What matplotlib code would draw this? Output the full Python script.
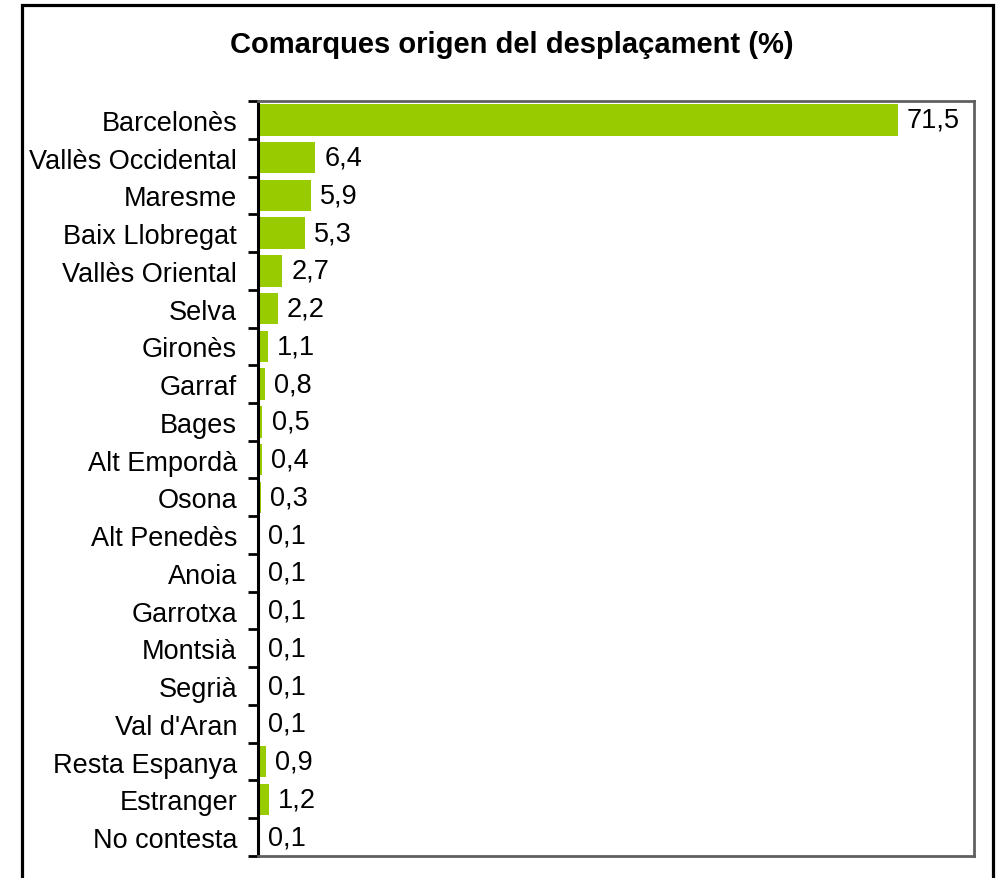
import matplotlib
matplotlib.use("Agg")
import matplotlib.pyplot as plt
from matplotlib.patches import Rectangle

categories = ["Barcelonès", "Vallès Occidental", "Maresme", "Baix Llobregat",
              "Vallès Oriental", "Selva", "Gironès", "Garraf", "Bages",
              "Alt Empordà", "Osona", "Alt Penedès", "Anoia", "Garrotxa",
              "Montsià", "Segrià", "Val d'Aran", "Resta Espanya", "Estranger",
              "No contesta"]
values = [71.5, 6.4, 5.9, 5.3, 2.7, 2.2, 1.1, 0.8, 0.5, 0.4, 0.3, 0.1, 0.1,
          0.1, 0.1, 0.1, 0.1, 0.9, 1.2, 0.1]
title = "Comarques origen del desplaçament (%)"

plt.rcParams['font.family'] = ['Liberation Sans', 'DejaVu Sans']

W, H = 997, 879
fig = plt.figure(figsize=(W / 100, H / 100), dpi=100)

# outer frame
fig.patches.append(Rectangle((22 / W, -0.05), (993 - 22) / W, (H - 6) / H + 0.05,
                             transform=fig.transFigure, fill=False,
                             edgecolor='black', linewidth=2.3, zorder=0))

ax = fig.add_axes([258 / W, 1 - 857 / H, (974 - 258) / W, (857 - 102) / H])
n = len(categories)
ypos = list(range(n))
ax.barh(ypos, values, height=0.83, color='#99CC00', zorder=2)
ax.set_ylim(n - 0.5, -0.5)
ax.set_xlim(0, 80)

for y, v in zip(ypos, values):
    ax.annotate(f"{v:.1f}".replace('.', ','), xy=(v, y), xytext=(6.5, 0),
                textcoords='offset points', va='center', ha='left',
                fontsize=19.5, color='black')

ax.set_yticks(ypos)
ax.set_yticklabels(categories, fontsize=19.5)
ax.tick_params(axis='y', which='major', length=0, pad=15)
ax.set_yticks([i - 0.5 for i in range(n + 1)], minor=True)
ax.tick_params(axis='y', which='minor', length=7, width=2, direction='out', color='black')
ax.set_xticks([])

for s in ['top', 'right', 'bottom']:
    ax.spines[s].set_color('#606060')
    ax.spines[s].set_linewidth(2)
ax.spines['left'].set_color('black')
ax.spines['left'].set_linewidth(2.2)

fig.text(512 / W, 1 - 53 / H, title, ha='center', va='baseline',
         fontsize=21, fontweight='bold')

fig.savefig("out.png", dpi=100)
